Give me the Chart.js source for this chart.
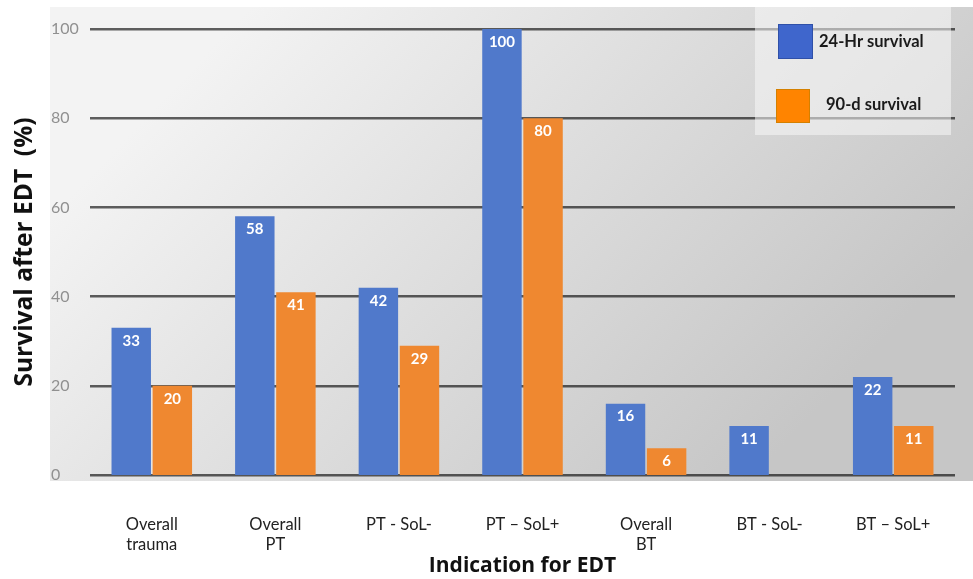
<!DOCTYPE html>
<html><head><meta charset="utf-8">
<script src="https://cdn.jsdelivr.net/npm/chart.js@4/dist/chart.umd.min.js"></script>
<style>html,body{margin:0;padding:0;background:#fff}#w{width:973px;height:579px}</style>
</head><body><div id="w"><canvas id="c" width="973" height="579"></canvas></div>
<script>
const categories = [["Overall","trauma"],["Overall","PT"],"PT - SoL-","PT \u2013 SoL+",["Overall","BT"],"BT - SoL-","BT \u2013 SoL+"];
const survival24h = [33,58,42,100,16,11,22];
const survival90d = [20,41,29,80,6,0,11];
const seriesNames = ["24-Hr survival","90-d survival"];
const yTicks = [0,20,40,60,80,100];

const FONT = "Lato, 'Open Sans', sans-serif";
const TFONT = "'Open Sans', Lato, sans-serif";

const bgPlugin = {
  id:'bg',
  beforeDraw(chart){
    const ctx = chart.ctx;
    const g = ctx.createLinearGradient(250,7,750,481);
    g.addColorStop(0,'#f3f3f3');
    g.addColorStop(1,'#c6c6c6');
    ctx.save(); ctx.fillStyle=g; ctx.fillRect(50,7,923,474); ctx.restore();
  }
};

const labelPlugin = {
  id:'vals',
  afterDraw(chart){
    const ctx = chart.ctx;
    ctx.save();
    ctx.font = "bold 15px " + FONT;
    ctx.fillStyle = '#ffffff';
    ctx.textAlign='center'; ctx.textBaseline='middle';
    chart.data.datasets.forEach((ds,i)=>{
      const meta = chart.getDatasetMeta(i);
      meta.data.forEach((bar,j)=>{
        const v = ds.data[j];
        if(!v) return;
        ctx.fillText(String(v), bar.x, bar.y + 13);
      });
    });
    // legend
    ctx.fillStyle='rgba(248,248,248,0.55)';
    ctx.fillRect(755,7,196,128);
    const items = [
      {x:778,y:24,s:35,fill:'#3f66cc',stroke:'#2f50a8',tx:819,ty:42},
      {x:776,y:89,s:34,fill:'#ff8400',stroke:'#d48000',tx:826,ty:105}
    ];
    chart.data.datasets.forEach((ds,i)=>{
      const it = items[i];
      ctx.fillStyle = it.fill; ctx.fillRect(it.x,it.y,it.s,it.s);
      ctx.strokeStyle = it.stroke; ctx.lineWidth=1; ctx.strokeRect(it.x+0.5,it.y+0.5,it.s-1,it.s-1);
      ctx.fillStyle='#1a1a1a'; ctx.font="bold 16.5px "+FONT; ctx.textAlign='left';
      ctx.fillText(ds.label, it.tx, it.ty);
    });
    ctx.restore();
  }
};

new Chart(document.getElementById('c'),{
  type:'bar',
  data:{
    labels:categories,
    datasets:[
      {label:seriesNames[0],data:survival24h,backgroundColor:'#5079cb',barPercentage:0.96,categoryPercentage:0.665},
      {label:seriesNames[1],data:survival90d,backgroundColor:'#ef8830',barPercentage:0.96,categoryPercentage:0.665}
    ]
  },
  plugins:[bgPlugin,labelPlugin],
  options:{
    responsive:false,animation:false,
    layout:{padding:{top:29,right:18,left:0,bottom:0}},
    plugins:{legend:{display:false},tooltip:{enabled:false}},
    scales:{
      x:{
        grid:{display:false},border:{display:false},
        ticks:{color:'#222',font:{family:FONT,size:16.5},padding:32,maxRotation:0,autoSkip:false},
        title:{display:true,text:'Indication for EDT',color:'#111',font:{family:TFONT,size:21,weight:'bold'},padding:{top:0,bottom:0}},
        afterFit(s){s.height=104;}
      },
      ytitle:{
        type:'linear',position:'left',weight:1,
        grid:{display:false},border:{display:false},ticks:{display:false},
        title:{display:true,text:'Survival after EDT  (%)',color:'#111',font:{family:TFONT,size:24.5,weight:'bold'},padding:{top:10,bottom:0}},
        afterFit(s){s.width=51;}
      },
      y:{
        position:'left',weight:0,z:1,min:0,max:100,
        afterBuildTicks(s){s.ticks=yTicks.map(v=>({value:v}));},
        grid:{color:'rgba(0,0,0,0.62)',lineWidth:2.5,drawTicks:false},
        border:{display:false},
        ticks:{color:'#909090',font:{family:FONT,size:16},crossAlign:'far',padding:0},
        afterFit(s){s.width=39;}
      }
    }
  }
});
</script></body></html>
